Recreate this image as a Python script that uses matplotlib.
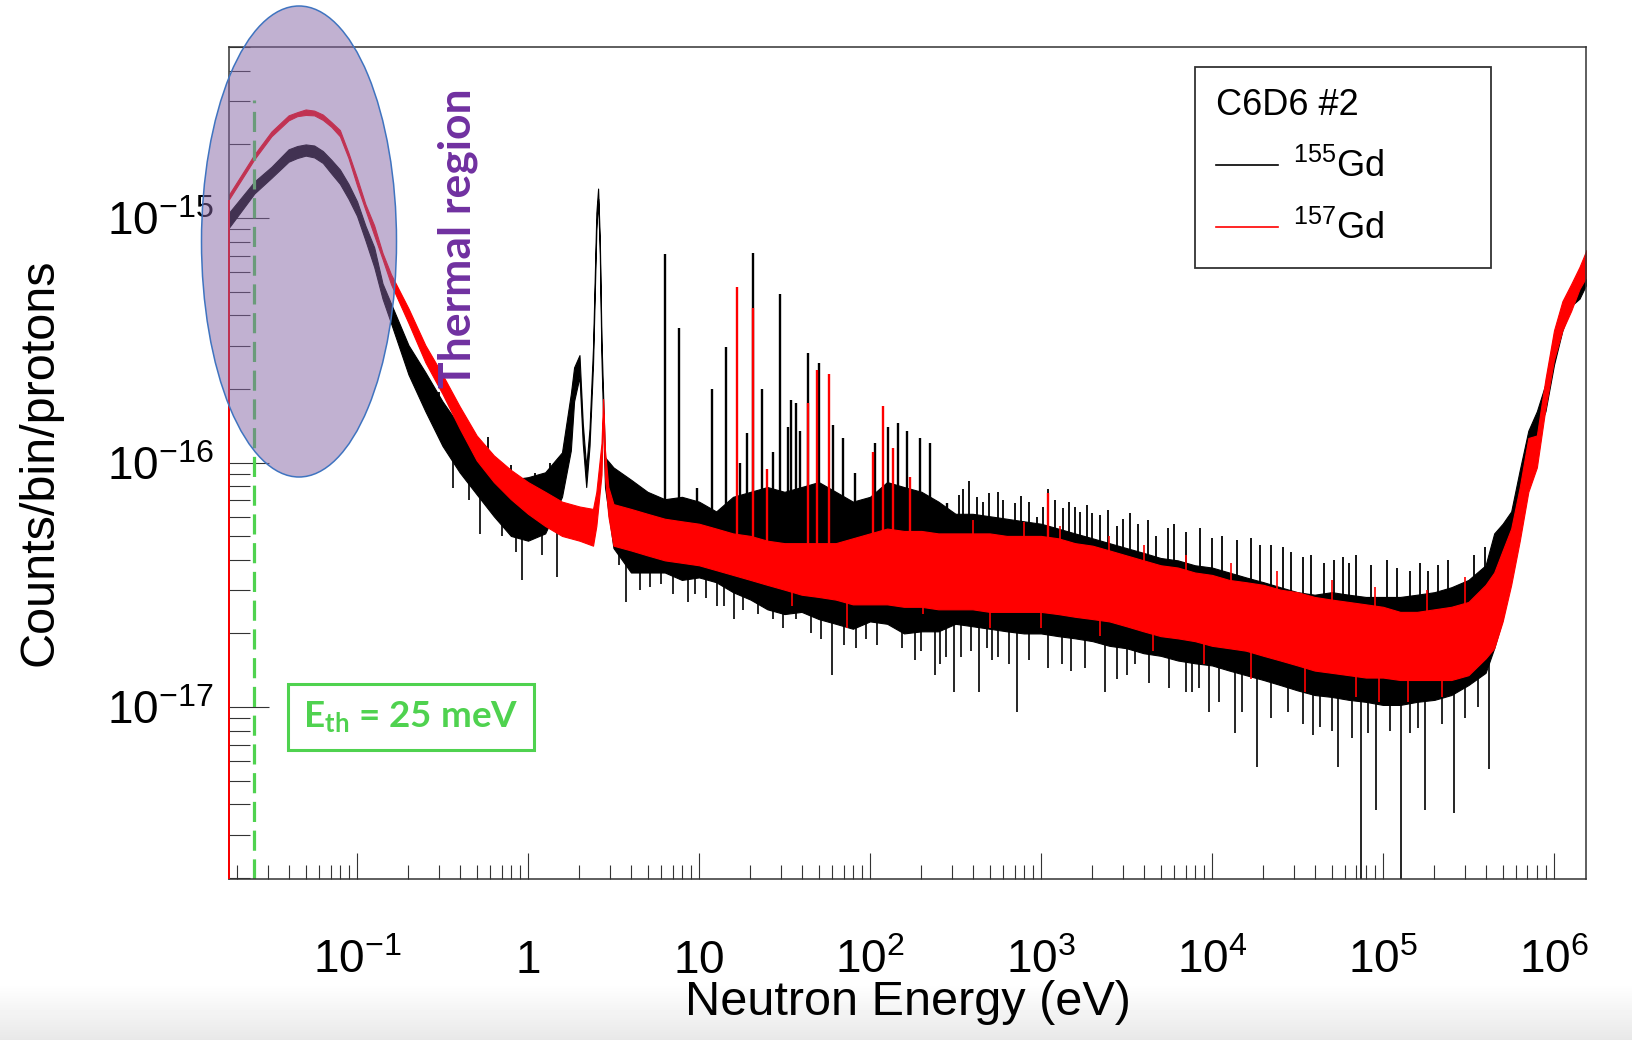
import numpy as np
import matplotlib
matplotlib.use("Agg")
import matplotlib.pyplot as plt
from matplotlib.patches import Ellipse
from matplotlib.lines import Line2D
from matplotlib.ticker import LogLocator, FixedLocator, FuncFormatter, NullFormatter

plt.rcParams['font.family'] = ['Liberation Sans', 'DejaVu Sans']
plt.rcParams['mathtext.default'] = 'regular'

# ---------------- data ----------------
# 155Gd (black): band of the noisy histogram, lower / upper edge
e155 = [0.0178, 0.0251, 0.0316, 0.0398, 0.0447, 0.0501, 0.0562, 0.0631, 0.0708, 0.0794,
        0.0891, 0.1, 0.112, 0.126, 0.141, 0.158,
        0.2, 0.251, 0.316, 0.398, 0.501, 0.631, 0.794, 1.0, 1.26, 1.58,
        1.78, 1.86, 2.0, 2.09, 2.19, 2.29, 2.40, 2.51, 2.57, 2.63,
        2.69, 2.82, 3.16, 4.0, 5.0, 6.31, 7.94, 10, 12.6, 15.8,
        20, 25.1, 31.6, 39.8, 50.1, 63.1, 79.4, 100, 126, 158,
        200, 251, 316, 398, 501, 631, 794, 1000, 1260, 1580,
        2000, 2510, 3160, 3980, 5010, 6310, 7940, 1.0e4, 1.26e4, 1.58e4,
        2.0e4, 2.51e4, 3.16e4, 3.98e4, 5.01e4, 6.31e4, 7.94e4, 1.0e5, 1.26e5, 1.58e5,
        2.0e5, 2.51e5, 3.16e5, 3.98e5, 4.47e5, 5.01e5, 5.62e5, 6.31e5, 7.08e5, 7.94e5,
        8.91e5, 1.0e6, 1.12e6, 1.26e6, 1.41e6, 1.55e6]
lo155 = [9.12e-16, 1.26e-15, 1.46e-15, 1.70e-15, 1.76e-15, 1.80e-15, 1.77e-15, 1.68e-15, 1.52e-15, 1.38e-15,
         1.20e-15, 1.02e-15, 8.10e-16, 6.31e-16, 4.68e-16, 3.72e-16,
         2.29e-16, 1.62e-16, 1.17e-16, 9.12e-17, 7.41e-17, 6.03e-17, 5.01e-17, 4.79e-17, 5.13e-17, 7.24e-17,
         1.12e-16, 1.78e-16, 2.24e-16, 1.20e-16, 7.94e-17, 1.17e-16, 2.51e-16, 8.91e-16, 1.20e-15, 7.08e-16,
         2.63e-16, 7.94e-17, 4.47e-17, 3.55e-17, 3.55e-17, 3.55e-17, 3.31e-17, 3.39e-17, 3.24e-17, 2.95e-17,
         2.75e-17, 2.51e-17, 2.40e-17, 2.45e-17, 2.29e-17, 2.19e-17, 2.09e-17, 2.24e-17, 2.19e-17, 2.00e-17,
         2.04e-17, 2.04e-17, 2.19e-17, 2.14e-17, 2.09e-17, 2.04e-17, 2.00e-17, 2.00e-17, 1.95e-17, 1.91e-17,
         1.86e-17, 1.78e-17, 1.74e-17, 1.66e-17, 1.62e-17, 1.55e-17, 1.51e-17, 1.48e-17, 1.41e-17, 1.35e-17,
         1.29e-17, 1.23e-17, 1.17e-17, 1.12e-17, 1.10e-17, 1.07e-17, 1.05e-17, 1.02e-17, 1.02e-17, 1.05e-17,
         1.07e-17, 1.12e-17, 1.23e-17, 1.38e-17, 1.74e-17, 2.29e-17, 3.80e-17, 5.75e-17, 9.33e-17, 1.32e-16,
         1.62e-16, 2.51e-16, 3.47e-16, 4.37e-16, 4.68e-16, 5.37e-16]
hi155 = [1.05e-15, 1.41e-15, 1.62e-15, 1.91e-15, 1.97e-15, 2.00e-15, 1.98e-15, 1.88e-15, 1.73e-15, 1.58e-15,
         1.38e-15, 1.17e-15, 9.30e-16, 7.59e-16, 5.40e-16, 4.47e-16,
         3.02e-16, 2.34e-16, 1.78e-16, 1.41e-16, 1.17e-16, 9.55e-17, 8.51e-17, 8.71e-17, 9.12e-17, 1.10e-16,
         1.91e-16, 2.45e-16, 2.75e-16, 1.45e-16, 9.55e-17, 1.38e-16, 2.95e-16, 1.05e-15, 1.32e-15, 8.13e-16,
         3.16e-16, 1.05e-16, 9.55e-17, 8.51e-17, 7.59e-17, 7.08e-17, 7.24e-17, 6.92e-17, 6.31e-17, 7.24e-17,
         7.59e-17, 7.94e-17, 7.59e-17, 7.94e-17, 8.32e-17, 7.59e-17, 6.92e-17, 7.24e-17, 8.32e-17, 7.94e-17,
         7.59e-17, 6.92e-17, 6.17e-17, 6.17e-17, 6.03e-17, 5.89e-17, 5.75e-17, 5.62e-17, 5.37e-17, 5.13e-17,
         4.90e-17, 4.68e-17, 4.47e-17, 4.27e-17, 4.07e-17, 3.98e-17, 3.80e-17, 3.72e-17, 3.55e-17, 3.39e-17,
         3.24e-17, 3.09e-17, 2.95e-17, 2.88e-17, 2.95e-17, 2.88e-17, 2.82e-17, 2.82e-17, 2.82e-17, 2.88e-17,
         2.95e-17, 3.09e-17, 3.31e-17, 3.80e-17, 5.13e-17, 5.62e-17, 6.31e-17, 9.33e-17, 1.35e-16, 1.62e-16,
         2.09e-16, 3.31e-16, 4.37e-16, 5.13e-16, 6.03e-16, 6.61e-16]

# 157Gd (red): band of the noisy histogram, lower / upper edge
e157 = [0.0178, 0.0251, 0.0316, 0.0398, 0.0447, 0.0501, 0.0562, 0.0631, 0.0708, 0.0794,
        0.0891, 0.1, 0.112, 0.126, 0.141, 0.158,
        0.2, 0.251, 0.316, 0.398, 0.501, 0.631, 0.794, 1.0, 1.26, 1.58,
        2.0, 2.40, 2.51, 2.69, 2.75, 2.82, 2.95, 3.16, 4.0, 5.0,
        6.31, 7.94, 10, 12.6, 15.8, 20, 25.1, 31.6, 39.8, 50.1,
        63.1, 79.4, 100, 126, 158, 200, 251, 316, 398, 501,
        631, 794, 1000, 1260, 1580, 2000, 2510, 3160, 3980, 5010,
        6310, 7940, 1.0e4, 1.26e4, 1.58e4, 2.0e4, 2.51e4, 3.16e4, 3.98e4, 5.01e4,
        6.31e4, 7.94e4, 1.0e5, 1.26e5, 1.58e5, 2.0e5, 2.51e5, 3.16e5, 3.98e5, 4.47e5,
        5.01e5, 5.62e5, 6.31e5, 7.08e5, 7.94e5, 8.91e5, 1.0e6, 1.12e6, 1.26e6, 1.41e6,
        1.55e6]
lo157 = [1.19e-15, 1.74e-15, 2.16e-15, 2.51e-15, 2.61e-15, 2.64e-15, 2.63e-15, 2.52e-15, 2.36e-15, 2.16e-15,
         1.76e-15, 1.36e-15, 1.08e-15, 8.51e-16, 6.80e-16, 5.37e-16,
         3.72e-16, 2.57e-16, 1.91e-16, 1.38e-16, 1.02e-16, 8.32e-17, 7.08e-17, 6.17e-17, 5.50e-17, 5.01e-17,
         4.79e-17, 4.57e-17, 5.50e-17, 8.91e-17, 1.58e-16, 8.71e-17, 6.03e-17, 4.57e-17, 4.37e-17, 4.17e-17,
         3.98e-17, 3.89e-17, 3.80e-17, 3.63e-17, 3.47e-17, 3.31e-17, 3.16e-17, 3.02e-17, 2.88e-17, 2.82e-17,
         2.75e-17, 2.63e-17, 2.63e-17, 2.63e-17, 2.57e-17, 2.57e-17, 2.51e-17, 2.51e-17, 2.51e-17, 2.45e-17,
         2.45e-17, 2.45e-17, 2.45e-17, 2.40e-17, 2.34e-17, 2.29e-17, 2.24e-17, 2.14e-17, 2.04e-17, 1.95e-17,
         1.91e-17, 1.86e-17, 1.78e-17, 1.74e-17, 1.70e-17, 1.62e-17, 1.55e-17, 1.48e-17, 1.41e-17, 1.38e-17,
         1.35e-17, 1.32e-17, 1.32e-17, 1.29e-17, 1.29e-17, 1.29e-17, 1.29e-17, 1.35e-17, 1.58e-17, 1.74e-17,
         2.24e-17, 3.16e-17, 4.79e-17, 7.59e-17, 9.55e-17, 1.66e-16, 2.63e-16, 3.47e-16, 4.17e-16, 5.13e-16,
         5.75e-16]
hi157 = [1.245e-15, 1.82e-15, 2.26e-15, 2.63e-15, 2.71e-15, 2.78e-15, 2.75e-15, 2.65e-15, 2.47e-15, 2.29e-15,
         1.85e-15, 1.46e-15, 1.14e-15, 9.33e-16, 7.20e-16, 5.89e-16,
         4.27e-16, 3.02e-16, 2.29e-16, 1.70e-16, 1.29e-16, 1.07e-16, 9.33e-17, 8.32e-17, 7.59e-17, 6.92e-17,
         6.61e-17, 6.46e-17, 7.59e-17, 1.20e-16, 1.82e-16, 1.12e-16, 7.94e-17, 6.76e-17, 6.46e-17, 6.17e-17,
         5.89e-17, 5.75e-17, 5.62e-17, 5.37e-17, 5.13e-17, 5.01e-17, 4.79e-17, 4.68e-17, 4.68e-17, 4.68e-17,
         4.68e-17, 4.90e-17, 5.13e-17, 5.37e-17, 5.25e-17, 5.25e-17, 5.13e-17, 5.13e-17, 5.13e-17, 5.13e-17,
         5.01e-17, 5.01e-17, 5.01e-17, 4.90e-17, 4.68e-17, 4.57e-17, 4.37e-17, 4.17e-17, 3.98e-17, 3.80e-17,
         3.72e-17, 3.55e-17, 3.47e-17, 3.31e-17, 3.24e-17, 3.16e-17, 3.02e-17, 2.95e-17, 2.82e-17, 2.75e-17,
         2.69e-17, 2.63e-17, 2.57e-17, 2.45e-17, 2.45e-17, 2.51e-17, 2.57e-17, 2.69e-17, 3.16e-17, 3.55e-17,
         4.37e-17, 5.37e-17, 7.94e-17, 1.26e-16, 1.29e-16, 2.19e-16, 3.47e-16, 4.57e-16, 5.37e-16, 6.31e-16,
         7.41e-16]

# 155Gd resonances (energy, value)
res155_e = [6.3, 7.6, 9.7, 11.9, 14.4, 17.4, 19.0, 20.7, 23.3, 27, 29.8, 33, 34.5, 36.9, 39,
            43.4, 50.5, 61, 69.5, 81.6, 107, 127, 146, 164, 195, 224, 282, 3.5, 5.0]
res155_y = [7.1e-16, 3.55e-16, 7.9e-17, 2.0e-16, 2.97e-16, 1.0e-16, 1.32e-16, 7.2e-16, 2.0e-16, 1.1e-16,
            4.9e-16, 1.4e-16, 1.8e-16, 1.75e-16, 1.35e-16, 2.8e-16, 2.55e-16, 1.42e-16, 1.26e-16, 9.1e-17,
            1.2e-16, 1.4e-16, 1.45e-16, 1.35e-16, 1.26e-16, 1.2e-16, 6.8e-17, 8.3e-17, 7.5e-17]
# 155Gd single bins sticking out above the band
up155_e = [0.3, 0.45, 0.58, 0.8, 1.1, 1.35, 1.6, 331, 350, 380, 420, 460, 497, 560, 600, 700, 760,
           850, 948, 1030, 1100, 1200, 1350, 1450, 1580, 1700, 1850, 1990, 2200, 2450, 2780,
           3000, 3300, 3700, 4200, 4700, 5500, 6000, 7000, 8500, 1.0e4, 1.15e4, 1.4e4, 1.7e4,
           1.9e4, 2.2e4, 2.6e4, 2.9e4, 3.4e4, 3.8e4, 4.5e4, 5.2e4, 5.8e4, 6.3e4, 7.0e4, 8.5e4,
           1.05e5, 1.2e5, 1.44e5, 1.65e5, 1.83e5, 2.1e5, 2.4e5, 2.94e5, 3.4e5, 3.95e5, 4.42e5, 5.0e5]
up155_y = [1.95e-16, 1.35e-16, 1.27e-16, 9.8e-17, 9.1e-17, 1.0e-16, 9.1e-17, 7.4e-17, 7.8e-17, 8.4e-17,
           7.2e-17, 6.9e-17, 7.5e-17, 7.6e-17, 7.0e-17, 6.8e-17, 7.3e-17, 6.9e-17, 6.0e-17, 6.6e-17,
           7.8e-17, 7.0e-17, 6.5e-17, 6.9e-17, 6.6e-17, 6.3e-17, 6.7e-17, 6.2e-17, 6.1e-17, 6.4e-17,
           5.5e-17, 5.9e-17, 6.2e-17, 5.6e-17, 5.8e-17, 5.0e-17, 5.4e-17, 5.6e-17, 5.2e-17, 5.4e-17,
           4.9e-17, 5.0e-17, 4.8e-17, 4.9e-17, 4.6e-17, 4.6e-17, 4.5e-17, 4.3e-17, 4.1e-17, 4.2e-17,
           3.9e-17, 4.0e-17, 4.1e-17, 3.9e-17, 4.2e-17, 3.8e-17, 4.0e-17, 3.7e-17, 3.6e-17, 3.9e-17,
           3.6e-17, 3.8e-17, 4.0e-17, 3.2e-17, 4.2e-17, 4.5e-17, 4.2e-17, 5.3e-17]
# 155Gd single bins dropping below the band
dn155_e = [0.28, 0.363, 0.45, 0.525, 0.7, 0.85, 0.92, 1.2, 1.48, 3.4, 3.75, 4.5, 5.2, 6, 7, 8.6,
           9.5, 11, 12.7, 14, 16, 18, 22, 27, 31, 37, 45, 52, 60, 70, 83, 95, 110, 131, 154, 183,
           200, 240, 257, 280, 309, 340, 390, 436, 483, 520, 560, 650, 724, 850, 1100, 1320, 1500,
           1800, 2370, 2800, 3200, 3550, 4300, 5600, 7000, 7600, 8400, 9600, 1.1e4, 1.36e4, 1.5e4,
           1.83e4, 2.2e4, 2.78e4, 3.4e4, 3.9e4, 4.3e4, 5.0e4, 5.46e4, 6.6e4, 7.4e4, 8.2e4, 9.1e4,
           1.1e5, 1.27e5, 1.44e5, 1.6e5, 1.76e5, 2.2e5, 2.6e5, 3.0e5, 3.6e5, 4.17e5]
dn155_y = [1.45e-16, 7.9e-17, 7.0e-17, 5.1e-17, 5.0e-17, 4.3e-17, 3.3e-17, 4.2e-17, 3.4e-17, 3.8e-17,
           2.7e-17, 3.0e-17, 3.1e-17, 3.2e-17, 2.9e-17, 2.7e-17, 2.9e-17, 2.8e-17, 2.6e-17, 2.6e-17,
           2.3e-17, 2.5e-17, 2.4e-17, 2.3e-17, 2.1e-17, 2.3e-17, 2.0e-17, 1.9e-17, 1.35e-17, 1.8e-17,
           1.75e-17, 1.9e-17, 1.8e-17, 2.3e-17, 1.75e-17, 1.55e-17, 1.7e-17, 1.35e-17, 1.5e-17, 1.6e-17,
           1.15e-17, 1.6e-17, 1.7e-17, 1.15e-17, 1.75e-17, 1.55e-17, 1.6e-17, 1.5e-17, 9.5e-18, 1.55e-17,
           1.45e-17, 1.5e-17, 1.4e-17, 1.45e-17, 1.15e-17, 1.3e-17, 1.35e-17, 1.5e-17, 1.25e-17, 1.2e-17,
           1.15e-17, 1.15e-17, 1.2e-17, 9.5e-18, 1.05e-17, 7.8e-18, 9.5e-18, 5.7e-18, 9.0e-18, 9.5e-18,
           8.5e-18, 7.7e-18, 8.3e-18, 8.0e-18, 5.7e-18, 7.5e-18, 1.5e-18, 7.8e-18, 3.8e-18, 8.0e-18,
           1.5e-18, 7.8e-18, 8.2e-18, 3.8e-18, 8.5e-18, 3.7e-18, 9.0e-18, 1.0e-17, 5.6e-18]

# 157Gd resonances and single bins outside the band
res157_e = [16.7, 20.7, 25, 43.4, 49, 57.5, 104, 119, 136, 171, 1100]
res157_y = [5.2e-16, 4.3e-16, 9.4e-17, 1.75e-16, 2.4e-16, 2.3e-16, 1.1e-16, 1.7e-16, 1.15e-16, 8.7e-17, 7.5e-17]
up157_e = [400, 800, 1300, 2500, 4000, 7000, 1.3e4, 2.4e4, 5.0e4, 9.0e4, 1.8e5, 3.0e5]
up157_y = [5.8e-17, 5.7e-17, 5.5e-17, 5.0e-17, 4.6e-17, 4.2e-17, 3.9e-17, 3.6e-17, 3.3e-17, 3.1e-17,
           3.0e-17, 3.4e-17]
dn157_e = [35, 73, 205, 500, 1000, 2200, 4500, 9000, 1.7e4, 3.5e4, 7.0e4, 9.5e4, 1.4e5, 2.2e5]
dn157_y = [2.6e-17, 2.1e-17, 2.4e-17, 2.1e-17, 2.1e-17, 1.95e-17, 1.7e-17, 1.5e-17, 1.3e-17, 1.15e-17,
           1.1e-17, 1.05e-17, 1.05e-17, 1.1e-17]

E_TH = 0.025  # eV
xticks_major = [0.1, 1, 10, 1e2, 1e3, 1e4, 1e5, 1e6]
yticks_major = [1e-17, 1e-16, 1e-15]
series_labels = [r'$^{155}$Gd', r'$^{157}$Gd']
legend_title = 'C6D6 #2'

# ---------------- figure ----------------
W, H = 1633, 1040
fig = plt.figure(figsize=(W / 100, H / 100), dpi=100)

# light grey strip at the very bottom of the slide
strip = np.tile(np.linspace(0.91, 1.0, 57)[:, None], (1, W))
fig.figimage(strip, xo=0, yo=0, cmap='gray', vmin=0, vmax=1, origin='lower', zorder=-1)

ax = fig.add_axes([229 / W, 1 - 879 / H, 1357 / W, 832.5 / H])
ax.set_xscale('log')
ax.set_yscale('log')
ax.set_xlim(0.01784, 1.539e6)
ax.set_ylim(1.98e-18, 5.03e-15)


def band_mid(e, eb, lo, hi):
    mid = 0.5 * (np.log10(lo) + np.log10(hi))
    return 10 ** np.interp(np.log10(e), np.log10(eb), mid)


def draw_series(eb, lo, hi, color, spikes, z):
    eb, lo, hi = np.array(eb), np.array(lo), np.array(hi)
    ax.fill_between(eb, lo, hi, color=color, lw=0.8, edgecolor=color, zorder=z)
    for se, sy, lw in spikes:
        se, sy = np.array(se), np.array(sy)
        ax.vlines(se, band_mid(se, eb, lo, hi), sy, colors=color, lw=lw, zorder=z)
    # left edge of the histogram, drawn up from the bottom of the frame
    ax.vlines(eb[0], ax.get_ylim()[0], lo[0], colors=color, lw=1.4, clip_on=False, zorder=z + 4)


draw_series(e155, lo155, hi155, 'black',
            [(res155_e, res155_y, 1.7), (up155_e, up155_y, 1.3), (dn155_e, dn155_y, 1.2)], 2)
draw_series(e157, lo157, hi157, '#ff0000',
            [(res157_e, res157_y, 1.7), (up157_e, up157_y, 1.2), (dn157_e, dn157_y, 1.2)], 3)

# thermal energy marker
green = '#4fd24f'
ax.axvline(E_TH, ymin=0, ymax=(879 - 100) / 832.5, color=green, lw=2.3,
           linestyle=(0, (6.3, 2.7)), zorder=4)

# axes styling (ROOT-like)
for s in ax.spines.values():
    s.set_color('#333333')
    s.set_linewidth(1.1)
    s.set_zorder(5)
ax.xaxis.set_major_locator(FixedLocator(xticks_major))
ax.xaxis.set_minor_locator(LogLocator(base=10, subs=range(2, 10), numticks=100))
ax.yaxis.set_major_locator(FixedLocator(yticks_major))
ax.yaxis.set_minor_locator(LogLocator(base=10, subs=range(2, 10), numticks=100))


def xfmt(v, pos):
    if 0.9 < v < 11:
        return r'$\mathdefault{%d}$' % round(v)
    return r'$\mathdefault{10^{%d}}$' % round(np.log10(v))


def yfmt(v, pos):
    return r'$\mathdefault{10^{%d}}$' % round(np.log10(v))


ax.xaxis.set_major_formatter(FuncFormatter(xfmt))
ax.yaxis.set_major_formatter(FuncFormatter(yfmt))
ax.xaxis.set_minor_formatter(NullFormatter())
ax.yaxis.set_minor_formatter(NullFormatter())
ax.tick_params(axis='x', which='major', direction='in', length=18.7, width=0.8,
               color='#333333', labelsize=33, pad=68)
ax.tick_params(axis='x', which='minor', direction='in', length=10, width=0.8, color='#333333')
ax.tick_params(axis='y', which='major', direction='in', length=29, width=0.8,
               color='#333333', labelsize=33, pad=11)
ax.tick_params(axis='y', which='minor', direction='in', length=15, width=0.8, color='#333333')
for lbl in ax.get_xticklabels():
    lbl.set_va('baseline')

ax.set_xlabel('Neutron Energy (eV)', fontsize=35)
ax.xaxis.set_label_coords(0.5, -0.121)
ax.set_ylabel('Counts/bin/protons', fontsize=35)
ax.yaxis.set_label_coords(-0.123, 0.5)

# legend
handles = [Line2D([], [], color='black', lw=1.2), Line2D([], [], color='#ff0000', lw=1.2)]
leg = ax.legend(handles, series_labels, title=legend_title, loc='upper left',
                bbox_to_anchor=((1195 - 229) / 1357, (879 - 67) / 832.5 - 0.01, 296 / 1357, 0.01),
                mode='expand', borderaxespad=0, fontsize=26, title_fontsize=26,
                frameon=True, fancybox=False, framealpha=1, edgecolor='#333333',
                borderpad=0.58, labelspacing=0.72, handlelength=1.72, handletextpad=0.42,
                alignment='left')
leg.get_frame().set_linewidth(1.3)
leg.set_zorder(8)

# thermal-region highlight
ell = Ellipse((299 / W, 1 - 241.5 / H), 195 / W, 471 / H, transform=fig.transFigure,
              facecolor='#8565a5', alpha=0.5, edgecolor='none', zorder=5)
fig.add_artist(ell)
ell_edge = Ellipse((299 / W, 1 - 241.5 / H), 195 / W, 471 / H, transform=fig.transFigure,
                   facecolor='none', edgecolor='#3f74c0', lw=1.1, zorder=6)
fig.add_artist(ell_edge)
fig.text(458 / W, 1 - 238 / H, 'Thermal region', rotation=90, ha='center', va='center',
         color='#7030a0', fontsize=32, fontweight='bold', family='Lato', zorder=7)

fig.text(411 / W, 1 - 717 / H, r'$E_{th}$ = 25 meV', ha='center', va='center',
         color=green, fontsize=26.5, fontweight='bold', family='Lato', zorder=7,
         bbox=dict(boxstyle='square,pad=0.42', facecolor='white', edgecolor=green, lw=2.2))

fig.savefig('out.png', dpi=100)
